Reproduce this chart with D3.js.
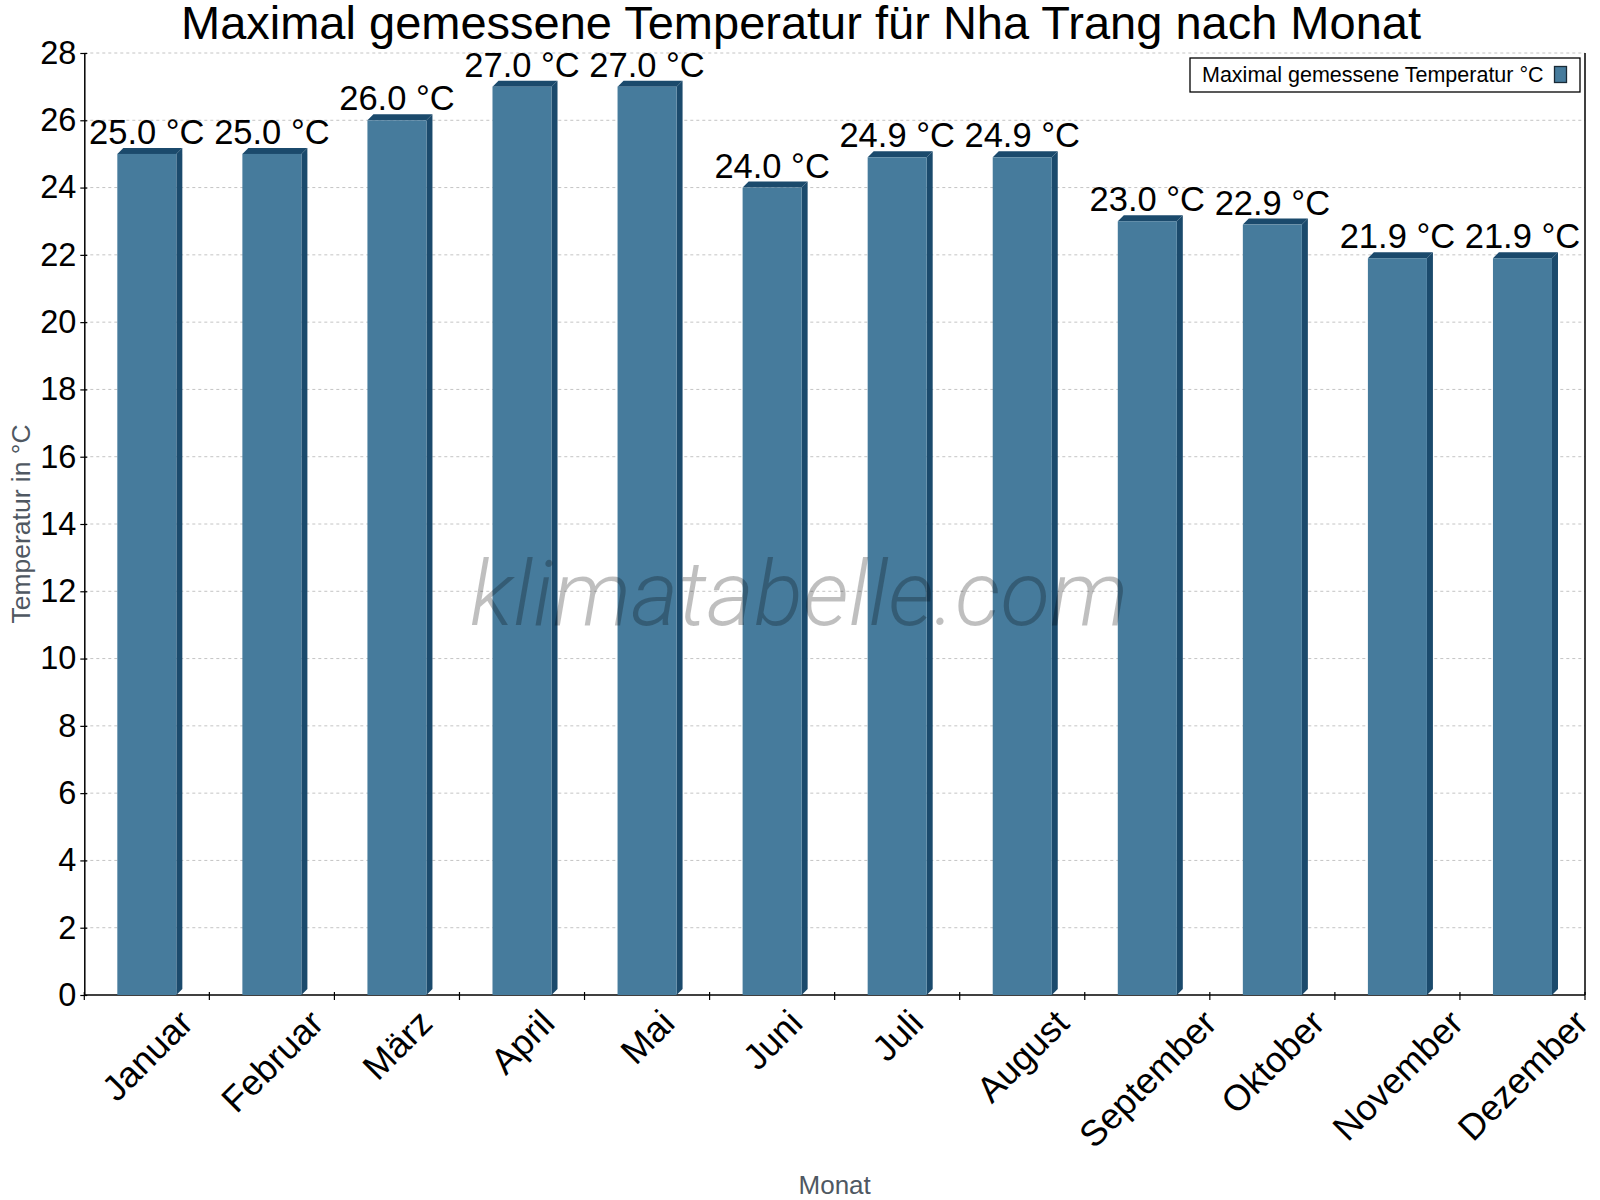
<!DOCTYPE html>
<html><head><meta charset="utf-8">
<script src="https://cdn.jsdelivr.net/npm/d3@7"></script>
<style>body{margin:0;background:#fff}svg{display:block}</style>
</head><body>
<svg id="c" width="1600" height="1200"></svg>
<script>
const months = ["Januar","Februar","März","April","Mai","Juni","Juli","August","September","Oktober","November","Dezember"];
const values = [25.0,25.0,26.0,27.0,27.0,24.0,24.9,24.9,23.0,22.9,21.9,21.9];
const yTickValues = [0,2,4,6,8,10,12,14,16,18,20,22,24,26,28];
const titleText = "Maximal gemessene Temperatur für Nha Trang nach Monat";
const seriesName = "Maximal gemessene Temperatur °C";
const yTitle = "Temperatur in °C";
const xTitle = "Monat";
const watermark = "klimatabelle.com";

const FONT = "'Liberation Sans', Arial, sans-serif";
const frontColor = "#467b9c", darkColor = "#1b4a6c";
const L = 84.3, R = 1585, T = 53, B = 995, depth = 6;

const svg = d3.select("#c");
const x = d3.scaleBand().domain(months).range([L, R]).padding(0);
const y = d3.scaleLinear().domain([0, 28]).range([B, T]);
const fw = x.bandwidth() * 0.472;

// gridlines
svg.append("g").selectAll("line").data(yTickValues.filter(d => d > 0)).join("line")
  .attr("x1", L).attr("x2", R).attr("y1", d => y(d)).attr("y2", d => y(d))
  .attr("stroke", "#c4c4c4").attr("stroke-width", 1).attr("stroke-dasharray", "3,3");

// axes
const yAxis = d3.axisLeft(y).tickValues(yTickValues).tickSize(4).tickPadding(4).tickSizeOuter(0);
const gy = svg.append("g").attr("transform", `translate(${L},0)`).call(yAxis);
gy.select(".domain").attr("stroke", "#000").attr("stroke-width", 1.5);
gy.selectAll(".tick line").attr("stroke", "#000").attr("stroke-width", 1.2).attr("x2", 3).attr("x1", -4);
gy.selectAll(".tick text").attr("font-family", FONT).attr("font-size", 32.5).attr("fill", "#000").attr("x", -8);

// bottom axis line, right border and ticks at category boundaries
svg.append("line").attr("x1", L).attr("x2", R).attr("y1", B).attr("y2", B).attr("stroke", "#000").attr("stroke-width", 1.5);
svg.append("line").attr("x1", R).attr("x2", R).attr("y1", T).attr("y2", B).attr("stroke", "#000").attr("stroke-width", 1.5);
const bounds = months.map(m => x(m)).concat([R]);
svg.append("g").selectAll("line").data(bounds).join("line")
  .attr("x1", d => d).attr("x2", d => d).attr("y1", B - 3).attr("y2", B + 5)
  .attr("stroke", "#000").attr("stroke-width", 1.2);

// bars
const bars = svg.append("g").selectAll("g").data(values).join("g");
bars.each(function(v, i) {
  const g = d3.select(this);
  const cx = x(months[i]) + x.bandwidth() / 2;
  const x0 = cx - fw / 2, x1 = cx + fw / 2, yt = y(v), yb = y(0);
  g.append("polygon").attr("fill", darkColor)
    .attr("points", [[x1, yt], [x1 + depth, yt - depth], [x1 + depth, yb - depth], [x1, yb]].join(" "));
  g.append("polygon").attr("fill", darkColor)
    .attr("points", [[x0, yt], [x0 + depth, yt - depth], [x1 + depth, yt - depth], [x1, yt]].join(" "));
  g.append("rect").attr("x", x0).attr("y", yt).attr("width", fw).attr("height", yb - yt).attr("fill", frontColor);
  g.append("text").attr("x", cx).attr("y", yt - 10).attr("text-anchor", "middle")
    .attr("font-family", FONT).attr("font-size", 34.5).attr("fill", "#000")
    .text(v.toFixed(1) + " °C");
});

// month labels rotated -45
const mg = svg.append("g");
months.forEach(m => {
  const cx = x(m) + x.bandwidth() / 2;
  const fs = 36;
  const t = mg.append("text").attr("font-family", FONT).attr("font-size", fs).attr("fill", "#000")
    .attr("text-anchor", "middle").attr("dy", "0.36em").text(m);
  const w = t.node().getComputedTextLength();
  const H = (w + 0.72 * fs) * Math.SQRT1_2;
  const cy = 1007 + H / 2;
  t.attr("x", cx).attr("y", cy).attr("transform", `rotate(-45,${cx},${cy})`);
});

// axis titles
svg.append("text").attr("x", (L + R) / 2).attr("y", 1194).attr("text-anchor", "middle")
  .attr("font-family", FONT).attr("font-size", 26).attr("fill", "#4f5862").text(xTitle);
svg.append("text").attr("transform", `translate(30,${(T + B) / 2}) rotate(-90)`).attr("text-anchor", "middle")
  .attr("font-family", FONT).attr("font-size", 26.5).attr("fill", "#4f5862").text(yTitle);

// title
svg.append("text").attr("x", 801).attr("y", 39).attr("text-anchor", "middle")
  .attr("font-family", FONT).attr("font-size", 47).attr("fill", "#000").text(titleText);

// legend
const lg = svg.append("g");
lg.append("rect").attr("x", 1190).attr("y", 58).attr("width", 390).attr("height", 34)
  .attr("fill", "#fff").attr("stroke", "#000").attr("stroke-width", 1.3);
lg.append("text").attr("x", 1202).attr("y", 82).attr("font-family", FONT).attr("font-size", 21.5)
  .attr("fill", "#000").text(seriesName);
lg.append("rect").attr("x", 1554.5).attr("y", 66.5).attr("width", 12).attr("height", 16)
  .attr("fill", frontColor).attr("stroke", "#1a2a36").attr("stroke-width", 1.3);

// watermark
svg.append("text").attr("x", 799).attr("y", 625).attr("text-anchor", "middle")
  .attr("font-family", "Roboto, sans-serif").attr("font-style", "italic").attr("font-weight", 300)
  .attr("font-size", 91).attr("fill", "rgba(0,0,0,0.25)").text(watermark);
</script>
</body></html>
